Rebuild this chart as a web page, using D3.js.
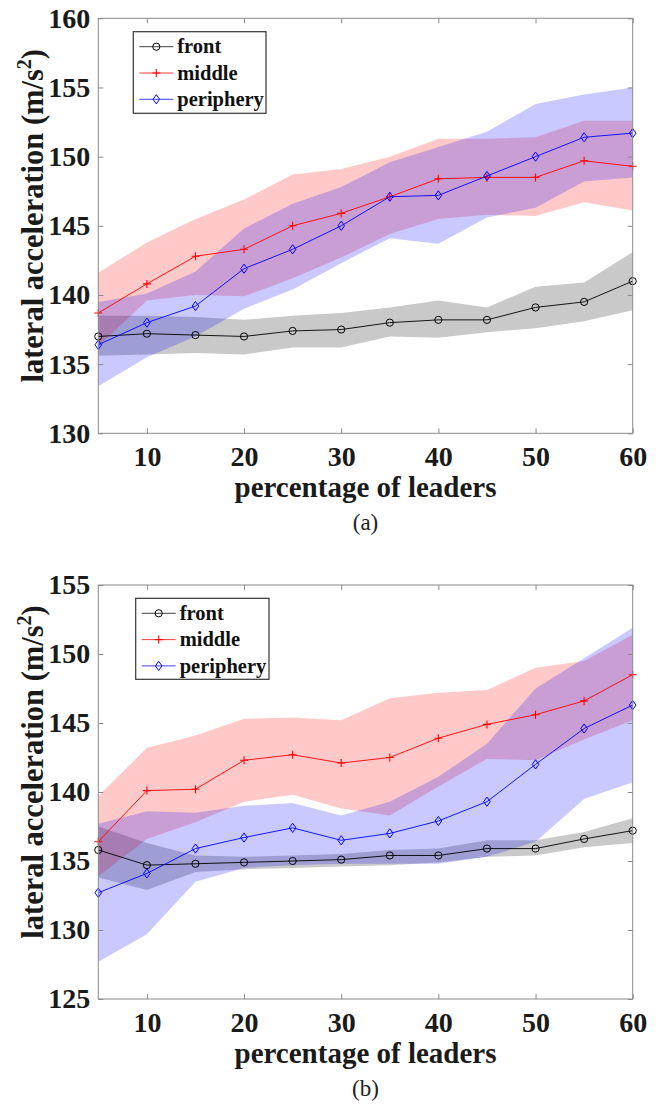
<!DOCTYPE html>
<html>
<head>
<meta charset="utf-8">
<script src="https://cdn.jsdelivr.net/npm/d3@7"></script>
<style>
  html, body { margin: 0; padding: 0; background: #fff; }
  svg { display: block; }
</style>
</head>
<body>
<svg id="chart" width="660" height="1104"></svg>
<script>
// ---------- data ----------
const xPct = [5, 10, 15, 20, 25, 30, 35, 40, 45, 50, 55, 60];
const xTicks = [10, 20, 30, 40, 50, 60];
const seriesNames = ["front", "middle", "periphery"];

// panel (a)
const yTicksA = [130, 135, 140, 145, 150, 155, 160];
const frontA    = [137.0, 137.2, 137.1, 137.0, 137.4, 137.5, 138.0, 138.2, 138.2, 139.1, 139.5, 141.0];
const frontAHi  = [138.5, 138.5, 138.4, 138.2, 138.5, 138.7, 139.1, 139.6, 139.1, 140.6, 140.9, 143.1];
const frontALo  = [135.6, 135.7, 135.8, 135.7, 136.2, 136.2, 137.0, 136.9, 137.3, 137.6, 138.1, 138.9];
const middleA   = [138.7, 140.8, 142.8, 143.3, 145.0, 145.9, 147.1, 148.4, 148.5, 148.5, 149.7, 149.3];
const middleAHi = [141.6, 143.8, 145.5, 146.9, 148.7, 149.1, 150.0, 151.3, 151.3, 151.4, 152.6, 152.6];
const middleALo = [136.3, 139.6, 140.0, 139.9, 141.2, 142.7, 144.4, 145.5, 145.8, 145.7, 146.7, 146.1];
const periA     = [136.4, 138.0, 139.2, 141.9, 143.3, 145.0, 147.1, 147.2, 148.6, 150.0, 151.4, 151.7];
const periAHi   = [139.5, 140.1, 141.7, 144.8, 146.6, 147.8, 149.6, 150.7, 151.8, 153.8, 154.5, 155.0];
const periALo   = [133.4, 135.5, 137.0, 139.0, 140.4, 142.3, 144.1, 143.7, 145.6, 146.3, 148.2, 148.5];

// panel (b)
const yTicksB = [125, 130, 135, 140, 145, 150, 155];
const frontB    = [135.8, 134.7, 134.8, 134.9, 135.0, 135.1, 135.4, 135.4, 135.9, 135.9, 136.6, 137.2];
const frontBHi  = [137.5, 136.3, 135.4, 135.3, 135.4, 135.5, 135.8, 135.9, 136.5, 136.5, 137.1, 138.1];
const frontBLo  = [133.8, 132.9, 134.2, 134.4, 134.5, 134.6, 134.7, 134.9, 135.3, 135.4, 136.0, 136.3];
const middleB   = [136.4, 140.1, 140.2, 142.3, 142.7, 142.1, 142.5, 143.9, 144.9, 145.6, 146.6, 148.5];
const middleBHi = [139.7, 143.2, 144.1, 145.3, 145.4, 145.2, 146.8, 147.2, 147.4, 149.0, 149.5, 151.4];
const middleBLo = [133.9, 136.6, 137.8, 139.3, 139.8, 138.8, 138.3, 140.4, 142.4, 142.3, 143.8, 145.2];
const periB     = [132.7, 134.1, 135.9, 136.7, 137.4, 136.5, 137.0, 137.9, 139.3, 142.0, 144.6, 146.3];
const periBHi   = [137.7, 138.6, 138.5, 139.0, 139.2, 138.3, 139.3, 141.1, 143.5, 147.5, 149.7, 151.9];
const periBLo   = [127.7, 129.7, 133.5, 134.5, 134.7, 134.8, 134.8, 134.8, 135.3, 136.4, 139.5, 140.7];

// ---------- drawing ----------
const svg = d3.select("#chart");
const serif = "'Liberation Serif', 'Times New Roman', serif";
const lineColors = { front: "#000000", middle: "#ff0000", periphery: "#0000ff" };
const fillColors = { front: "#000000", middle: "#ff0000", periphery: "#0000ff" };

function marker(g, type, color, x, y) {
  if (type === "front") {
    g.append("circle").attr("cx", x).attr("cy", y).attr("r", 3.6)
      .attr("fill", "none").attr("stroke", color).attr("stroke-width", 1);
  } else if (type === "middle") {
    g.append("path").attr("d", `M${x-4},${y}H${x+4}M${x},${y-4}V${y+4}`)
      .attr("stroke", color).attr("stroke-width", 1.1).attr("fill", "none");
  } else {
    g.append("path").attr("d", `M${x},${y-4.6}L${x+3.3},${y}L${x},${y+4.6}L${x-3.3},${y}Z`)
      .attr("stroke", color).attr("stroke-width", 1).attr("fill", "none");
  }
}

function drawPanel(cfg) {
  const { left, right, top, bottom, yDomain, yTicks, series, caption, legend, ylabelShift } = cfg;
  const x = d3.scaleLinear().domain([5, 60]).range([left, right]);
  const y = d3.scaleLinear().domain(yDomain).range([bottom, top]);
  const g = svg.append("g");

  // bands
  const area = d3.area().x(d => x(d.x)).y0(d => y(d.lo)).y1(d => y(d.hi));
  series.forEach(s => {
    const pts = xPct.map((v, i) => ({ x: v, lo: s.lo[i], hi: s.hi[i] }));
    g.append("path").datum(pts).attr("d", area)
      .attr("fill", fillColors[s.name]).attr("fill-opacity", 0.21).attr("stroke", "none");
  });

  // lines + markers
  const line = d3.line().x(d => x(d.x)).y(d => y(d.v));
  series.forEach(s => {
    const pts = xPct.map((v, i) => ({ x: v, v: s.mean[i] }));
    g.append("path").datum(pts).attr("d", line)
      .attr("fill", "none").attr("stroke", lineColors[s.name]).attr("stroke-width", 0.9);
    const mg = g.append("g");
    pts.forEach(p => marker(mg, s.name, lineColors[s.name], x(p.x), y(p.v)));
  });

  // frame
  g.append("rect").attr("x", left).attr("y", top)
    .attr("width", right - left).attr("height", bottom - top)
    .attr("fill", "none").attr("stroke", "#8a8a8a").attr("stroke-width", 1);

  const styleAxis = (ax) => {
    ax.select(".domain").remove();
    ax.selectAll(".tick line").attr("stroke", "#8a8a8a");
    ax.selectAll("text").attr("font-family", serif).attr("font-weight", "bold")
      .attr("font-size", 28).attr("fill", "#1a1a1a");
  };

  const axB = g.append("g").attr("transform", `translate(0,${bottom})`)
    .call(d3.axisBottom(x).tickValues(xTicks).tickSizeInner(-5).tickSizeOuter(0).tickPadding(13).tickFormat(d3.format("d")));
  styleAxis(axB);
  const axT = g.append("g").attr("transform", `translate(0,${top})`)
    .call(d3.axisTop(x).tickValues(xTicks).tickSizeInner(-5).tickSizeOuter(0).tickFormat(""));
  styleAxis(axT);
  const axL = g.append("g").attr("transform", `translate(${left},0)`)
    .call(d3.axisLeft(y).tickValues(yTicks).tickSizeInner(-5).tickSizeOuter(0).tickPadding(8).tickFormat(d3.format("d")));
  styleAxis(axL);
  const axR = g.append("g").attr("transform", `translate(${right},0)`)
    .call(d3.axisRight(y).tickValues(yTicks).tickSizeInner(-5).tickSizeOuter(0).tickFormat(""));
  styleAxis(axR);

  // axis titles
  g.append("text").attr("x", (left + right) / 2).attr("y", bottom + 64)
    .attr("text-anchor", "middle").attr("font-family", serif).attr("font-weight", "bold")
    .attr("font-size", 29).attr("fill", "#1a1a1a").text("percentage of leaders");

  const yl = g.append("text")
    .attr("transform", `translate(43,${(top + bottom) / 2 + ylabelShift}) rotate(-90)`)
    .attr("text-anchor", "middle").attr("font-family", serif).attr("font-weight", "bold")
    .attr("font-size", 30.5).attr("fill", "#1a1a1a");
  yl.append("tspan").text("lateral acceleration (m/s");
  yl.append("tspan").attr("font-size", 20).attr("dy", -12).text("2");
  yl.append("tspan").attr("dy", 12).text(")");

  // caption
  g.append("text").attr("x", (left + right) / 2).attr("y", bottom + 97)
    .attr("text-anchor", "middle").attr("font-family", serif)
    .attr("font-size", 23).attr("fill", "#222").text(caption);

  // legend
  const lg = g.append("g");
  lg.append("rect").attr("x", legend.x).attr("y", legend.y)
    .attr("width", legend.w).attr("height", legend.h)
    .attr("fill", "#fff").attr("stroke", "#333").attr("stroke-width", 1.2);
  seriesNames.forEach((name, i) => {
    const cy = legend.y + 15 + i * 26.3;
    const x0 = legend.x + 6, x1 = legend.x + 40;
    lg.append("line").attr("x1", x0).attr("x2", x1).attr("y1", cy).attr("y2", cy)
      .attr("stroke", lineColors[name]).attr("stroke-opacity", 0.75).attr("stroke-width", 1);
    marker(lg, name, lineColors[name], (x0 + x1) / 2, cy);
    lg.append("text").attr("x", legend.x + 44).attr("y", cy).attr("dy", "0.33em")
      .attr("font-family", serif).attr("font-weight", "bold").attr("font-size", 20.5)
      .attr("fill", "#111").text(name);
  });
}

drawPanel({
  left: 98.3, right: 632.7, top: 18.3, bottom: 433.3,
  yDomain: [130, 160], yTicks: yTicksA, caption: "(a)", ylabelShift: -10,
  legend: { x: 133.3, y: 31.7, w: 132.7, h: 81.6 },
  series: [
    { name: "front", mean: frontA, hi: frontAHi, lo: frontALo },
    { name: "middle", mean: middleA, hi: middleAHi, lo: middleALo },
    { name: "periphery", mean: periA, hi: periAHi, lo: periALo }
  ]
});

drawPanel({
  left: 98.3, right: 632.7, top: 585, bottom: 999,
  yDomain: [125, 155], yTicks: yTicksB, caption: "(b)", ylabelShift: -20,
  legend: { x: 135.7, y: 598.3, w: 133.3, h: 81 },
  series: [
    { name: "front", mean: frontB, hi: frontBHi, lo: frontBLo },
    { name: "middle", mean: middleB, hi: middleBHi, lo: middleBLo },
    { name: "periphery", mean: periB, hi: periBHi, lo: periBLo }
  ]
});
</script>
</body>
</html>
